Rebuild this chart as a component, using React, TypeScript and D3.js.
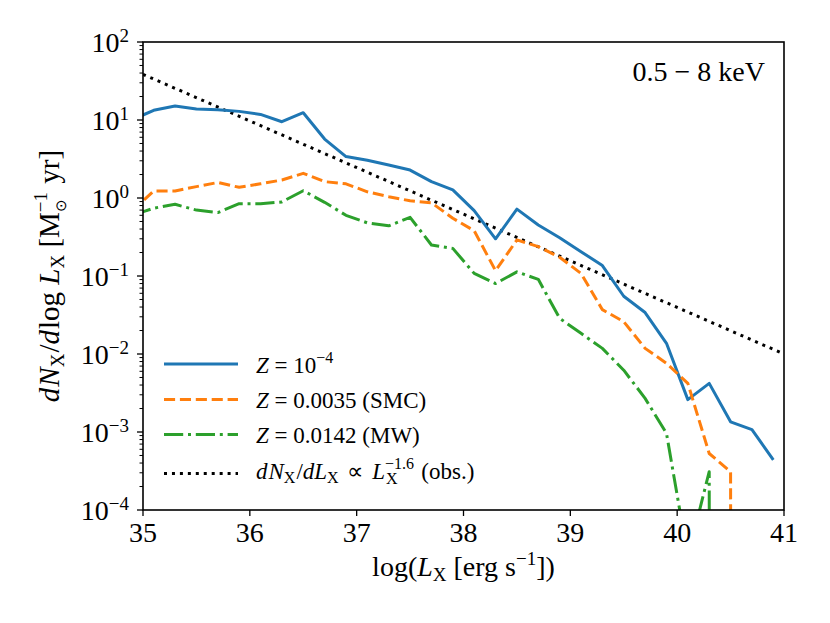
import React from "react";
import * as d3 from "d3";

// ---- data ----
const logL = [
  34.9, 35.1, 35.3, 35.5, 35.7, 35.9, 36.1, 36.3, 36.5, 36.7, 36.9,
  37.1, 37.3, 37.5, 37.7, 37.9, 38.1, 38.3, 38.5, 38.7, 38.9,
  39.1, 39.3, 39.5, 39.7, 39.9, 40.1, 40.3, 40.5, 40.7, 40.9,
];
const zLow = [
  10.1, 13.3, 15.1, 13.8, 13.5, 12.9, 11.8, 9.5, 12.4, 5.7, 3.4,
  3.04, 2.65, 2.28, 1.62, 1.27, 0.69, 0.30, 0.72, 0.45, 0.31,
  0.205, 0.136, 0.055, 0.034, 0.0137, 0.0026, 0.0042, 0.00135, 0.00107, 0.00044,
];
const zSMC = [
  0.69, 1.23, 1.23, 1.40, 1.58, 1.37, 1.52, 1.70, 2.07, 1.62, 1.52,
  1.20, 1.04, 0.92, 0.87, 0.55, 0.38, 0.117, 0.29, 0.238, 0.174,
  0.108, 0.037, 0.026, 0.0118, 0.0076, 0.0042, 0.00053, 0.00031, 0, 0,
];
const zMW = [
  0.60, 0.74, 0.83, 0.70, 0.65, 0.845, 0.845, 0.89, 1.24, 0.88, 0.60,
  0.48, 0.44, 0.565, 0.25, 0.226, 0.108, 0.080, 0.113, 0.0906, 0.0287,
  0.0184, 0.0118, 0.0062, 0.0027, 0.00096, 0.000025, 0.00031, 0, 0, 0,
];
const obsX = [35, 41];
const obsY = [38.5, 0.01];

const xTicks = [35, 36, 37, 38, 39, 40, 41];
const yExponents = [2, 1, 0, -1, -2, -3, -4];

const W = 830;
const H = 623;
const L = 143, R = 784, T = 42, B = 510;
const FONT = "'Liberation Serif', 'Times New Roman', serif";

const C_BLUE = "#1f77b4";
const C_ORANGE = "#ff7f0e";
const C_GREEN = "#2ca02c";

export default function App() {
  const x = d3.scaleLinear().domain([35, 41]).range([L, R]);
  const y = d3.scaleLog().domain([1e-4, 1e2]).range([B, T]);
  const safe = (v: number) => (v > 0 ? v : 1e-300);

  const line = d3
    .line<[number, number]>()
    .x((d) => x(d[0]))
    .y((d) => y(safe(d[1])));

  const mk = (vals: number[]) => logL.map((l, i) => [l, vals[i]] as [number, number]);

  const series = [
    { vals: zLow, color: C_BLUE, dash: "none" },
    { vals: zSMC, color: C_ORANGE, dash: "11.1,4.8" },
    { vals: zMW, color: C_GREEN, dash: "19.2,4.8,3,4.8" },
  ];
  const obsPts = obsX.map((v, i) => [v, obsY[i]] as [number, number]);

  const minor: number[] = [];
  for (let k = -4; k < 2; k++) {
    for (let m = 2; m <= 9; m++) minor.push(m * Math.pow(10, k));
  }

  const supStr = (e: number) => (e < 0 ? "\u2212" + Math.abs(e) : String(e));

  const legendRows = [
    { y: 364, color: C_BLUE, dash: "none" },
    { y: 399.5, color: C_ORANGE, dash: "11.1,4.8" },
    { y: 434.5, color: C_GREEN, dash: "19.2,4.8,3,4.8" },
    { y: 473.5, color: "#000", dash: "3,4.95" },
  ];

  return (
    <svg
      width={W}
      height={H}
      style={{ position: "absolute", left: 0, top: 0, background: "#fff" }}
      fontFamily={FONT}
    >
      <rect x={0} y={0} width={W} height={H} fill="#fff" />
      <defs>
        <clipPath id="plotclip">
          <rect x={L} y={T} width={R - L} height={B - T} />
        </clipPath>
      </defs>

      <g clipPath="url(#plotclip)">
        <path
          d={line(obsPts) || ""}
          fill="none"
          stroke="#000"
          strokeWidth={3}
          strokeDasharray="3,4.95"
        />
        {series.map((s, i) => (
          <path
            key={i}
            d={line(mk(s.vals)) || ""}
            fill="none"
            stroke={s.color}
            strokeWidth={3}
            strokeDasharray={s.dash}
            strokeLinejoin="round"
          />
        ))}
      </g>

      {/* frame */}
      <rect x={L} y={T} width={R - L} height={B - T} fill="none" stroke="#000" strokeWidth={1.6} />

      {/* x ticks */}
      {xTicks.map((t) => (
        <g key={t}>
          <line x1={x(t)} x2={x(t)} y1={B} y2={B + 6} stroke="#000" strokeWidth={1.3} />
          <text x={x(t)} y={542} textAnchor="middle" fontSize={28}>
            {t}
          </text>
        </g>
      ))}

      {/* y minor ticks */}
      {minor.map((v, i) => (
        <line key={i} x1={L - 3.5} x2={L} y1={y(v)} y2={y(v)} stroke="#000" strokeWidth={1} />
      ))}
      {/* y major ticks */}
      {yExponents.map((e) => {
        const yy = y(Math.pow(10, e));
        return (
          <g key={e}>
            <line x1={L - 6} x2={L} y1={yy} y2={yy} stroke="#000" strokeWidth={1.3} />
            <text x={129} y={yy + 10} textAnchor="end" fontSize={28}>
              10
              <tspan dy={-10} fontSize={19}>
                {supStr(e)}
              </tspan>
            </text>
          </g>
        );
      })}

      {/* x label */}
      <text x={(L + R) / 2} y={576} textAnchor="middle" fontSize={28}>
        log(
        <tspan fontStyle="italic">L</tspan>
        <tspan dy={5} fontSize={19}>X</tspan>
        <tspan dy={-5}> [erg s</tspan>
        <tspan dy={-11} fontSize={19}>{"\u22121"}</tspan>
        <tspan dy={11}>])</tspan>
      </text>

      {/* y label */}
      <text
        transform={`translate(59,${(T + B) / 2}) rotate(-90)`}
        textAnchor="middle"
        fontSize={29}
      >
        <tspan fontStyle="italic">d</tspan>
        <tspan fontStyle="italic" dx={1}>N</tspan>
        <tspan dy={5} fontSize={19}>X</tspan>
        <tspan dy={-5} dx={1}>/</tspan>
        <tspan fontStyle="italic">d</tspan>
        <tspan dx={1}>log </tspan>
        <tspan fontStyle="italic">L</tspan>
        <tspan dy={5} fontSize={19}>X</tspan>
        <tspan dy={-5}> [M</tspan>
        <tspan dy={-12} fontSize={19}>{"\u22121"}</tspan>
        <tspan dx={-20} dy={19} fontSize={15}>{"\u2299"}</tspan>
        <tspan dx={8} dy={-7}> yr]</tspan>
      </text>

      {/* energy band */}
      <text x={765} y={81} textAnchor="end" fontSize={28}>
        0.5 − 8 keV
      </text>

      {/* legend */}
      {legendRows.map((r, i) => (
        <line
          key={i}
          x1={164}
          x2={238}
          y1={r.y}
          y2={r.y}
          stroke={r.color}
          strokeWidth={3}
          strokeDasharray={r.dash}
        />
      ))}
      <text x={256} y={372.5} fontSize={23}>
        <tspan fontStyle="italic">Z</tspan>
        <tspan> = 10</tspan>
        <tspan dy={-10} fontSize={16}>{"\u22124"}</tspan>
      </text>
      <text x={256} y={407.5} fontSize={23}>
        <tspan fontStyle="italic">Z</tspan>
        <tspan> = 0.0035 (SMC)</tspan>
      </text>
      <text x={256} y={442.5} fontSize={23}>
        <tspan fontStyle="italic">Z</tspan>
        <tspan> = 0.0142 (MW)</tspan>
      </text>
      <text x={256} y={479} fontSize={23}>
        <tspan fontStyle="italic">d</tspan>
        <tspan fontStyle="italic" dx={1}>N</tspan>
        <tspan dy={4} fontSize={16}>X</tspan>
        <tspan dy={-4} dx={1}>/</tspan>
        <tspan fontStyle="italic">dL</tspan>
        <tspan dy={4} fontSize={16}>X</tspan>
        <tspan dy={-4} dx={3}> ∝ </tspan>
        <tspan fontStyle="italic" dx={3}>L</tspan>
        <tspan dy={-10} fontSize={16}>{"\u22121.6"}</tspan>
        <tspan dx={-28} dy={15} fontSize={16}>X</tspan>
        <tspan dx={18} dy={-5}> (obs.)</tspan>
      </text>
    </svg>
  );
}
